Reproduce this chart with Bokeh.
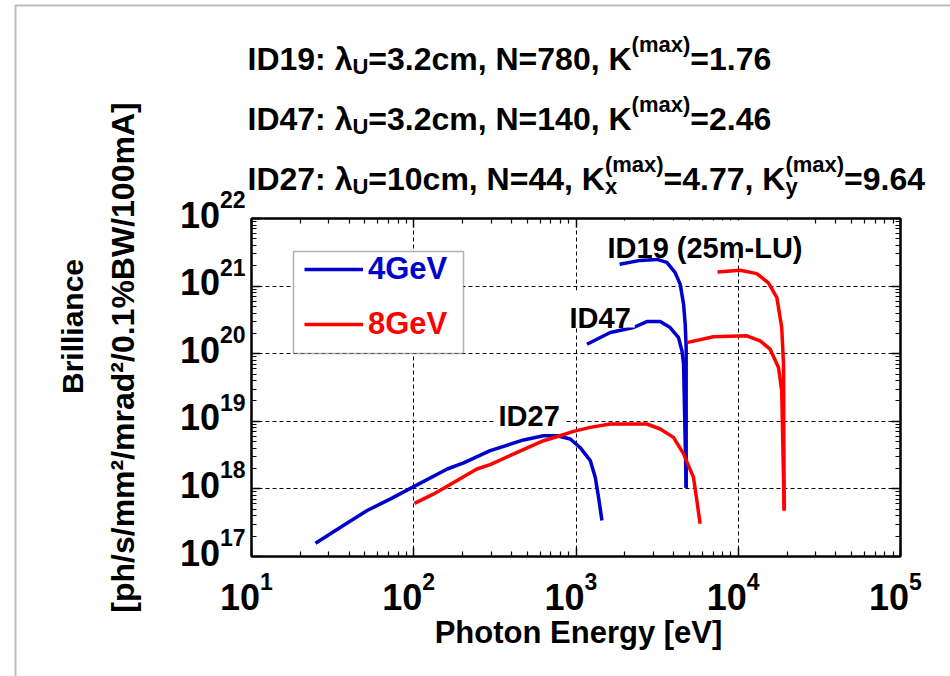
import math
from bokeh.plotting import figure
from bokeh.models import (Label, LogAxis, FixedTicker, BoxAnnotation, Legend, LegendItem, PolyAnnotation,
                          Range1d)
from bokeh.embed import file_html
from bokeh.resources import INLINE

# ---------------- data (photon energy [eV], brilliance) ----------------
id27_4gev_E = [24.8, 35.4, 51.6, 71.9, 100, 161, 203, 296, 475, 631, 764, 923, 1062, 1225, 1315, 1377, 1445]
id27_4gev_B = [1.57e17, 2.71e17, 4.79e17, 7.11e17, 1.08e18, 1.97e18, 2.42e18, 3.68e18, 5.30e18, 6.12e18,
               6.12e18, 5.47e18, 4.07e18, 2.62e18, 1.48e18, 7.52e17, 3.40e17]
id27_8gev_E = [101, 133, 185, 245, 296, 434, 631, 798, 966, 1225, 1626, 2735, 3304, 3990, 4603, 5297, 5559, 5821]
id27_8gev_B = [6.12e17, 8.43e17, 1.33e18, 1.97e18, 2.29e18, 3.48e18, 5.16e18, 6.12e18, 7.10e18, 8.13e18,
               9.12e18, 9.12e18, 7.69e18, 5.78e18, 3.29e18, 1.48e18, 6.71e17, 3.04e17]
id19_4gev_E = [1858, 2489, 3155, 3631, 4083, 4385, 4603, 4710, 4775, 4775]
id19_4gev_B = [2.10e21, 2.40e21, 2.48e21, 2.24e21, 1.58e21, 1.07e21, 5.41e20, 2.74e20, 1.23e20, 1.04e18]
id47_4gev_E = [1169, 1626, 2265, 2735, 3304, 3802, 4285, 4498, 4603, 4775]
id47_4gev_B = [1.38e20, 2.06e20, 2.44e20, 2.99e20, 2.99e20, 2.44e20, 1.73e20, 1.10e20, 7.01e19, 1.04e18]
id19_8gev_E = [7447, 10280, 13000, 15350, 17300, 18530, 19010, 19190]
id19_8gev_B = [1.62e21, 1.72e21, 1.53e21, 1.12e21, 6.76e20, 2.44e20, 7.01e19, 4.79e17]
id47_8gev_E = [4819, 7031, 11300, 13650, 15700, 17700, 18530, 19190]
id47_8gev_B = [1.46e20, 1.78e20, 1.84e20, 1.55e20, 1.17e20, 6.25e19, 2.83e19, 4.79e17]

x_tick_exponents = [1, 2, 3, 4, 5]
y_tick_exponents = [17, 18, 19, 20, 21, 22]
legend_labels = ["4GeV", "8GeV"]
curve_labels = ["ID19 (25m-LU)", "ID47", "ID27"]

BLUE = "#0000CC"
RED = "#FF0000"
FONT = "Liberation Sans"

# ---------------- layout constants (pixels) ----------------
W, H = 950, 676
FL, FR, FT, FB = 251, 900, 218, 556
XLO, XHI, YLO, YHI = 1, 5, 17, 22
DX = (FR - FL) / (XHI - XLO)
DY = (FB - FT) / (YHI - YLO)


def X(px):
    return float(10.0 ** (XLO + (px - FL) / DX))


def Y(py):
    return float(10.0 ** (YLO + (FB - py) / DY))


CW = {' ': 278, '(': 333, ')': 333, ',': 278, '-': 333, '.': 278, '/': 278, ':': 333, '=': 584, '%': 889,
      '[': 333, ']': 333, 'A': 722, 'B': 722, 'D': 722, 'E': 667, 'G': 778, 'I': 278, 'K': 722, 'L': 611,
      'N': 722, 'U': 722, 'V': 667, 'W': 944, 'a': 556, 'c': 556, 'd': 611, 'e': 556, 'g': 611, 'h': 611,
      'i': 278, 'l': 278, 'm': 889, 'n': 611, 'o': 611, 'p': 611, 'r': 389, 's': 556, 't': 333, 'x': 556,
      'y': 556, 'λ': 556}


def tw(s, size):
    return sum(CW.get(c, 556) for c in s) / 1000.0 * size


# ================= main plot =================
p = figure(width=W, height=H, x_axis_type="log", y_axis_type="log", title=None,
           x_range=(10.0 ** XLO, 10.0 ** XHI), y_range=(10.0 ** YLO, 10.0 ** YHI),
           output_backend="svg", toolbar_location=None,
           min_border_left=FL, min_border_right=W - FR, min_border_top=FT, min_border_bottom=H - FB)
p.background_fill_color = "white"
p.border_fill_color = "white"
p.outline_line_color = "black"
p.outline_line_width = 2

major_x = [10.0 ** e for e in x_tick_exponents]
minor_x = [k * 10.0 ** e for e in x_tick_exponents[:-1] for k in range(2, 10)]
major_y = [10.0 ** e for e in y_tick_exponents]
minor_y = [k * 10.0 ** e for e in y_tick_exponents[:-1] for k in range(2, 10)]


def style_axis(ax):
    ax.major_label_text_font_size = "10px"
    ax.major_label_text_color = None
    ax.major_tick_in = 9
    ax.major_tick_out = 0
    ax.minor_tick_in = 5
    ax.minor_tick_out = 0
    ax.axis_line_color = "black"
    ax.axis_line_width = 2
    ax.major_tick_line_width = 1.5
    ax.minor_tick_line_width = 1.2
    ax.major_label_standoff = 0


p.xaxis.ticker = FixedTicker(ticks=major_x, minor_ticks=minor_x)
p.yaxis.ticker = FixedTicker(ticks=major_y, minor_ticks=minor_y)
style_axis(p.xaxis[0])
style_axis(p.yaxis[0])
ax_top = LogAxis(ticker=FixedTicker(ticks=major_x, minor_ticks=minor_x))
ax_right = LogAxis(ticker=FixedTicker(ticks=major_y, minor_ticks=minor_y))
style_axis(ax_top)
style_axis(ax_right)
p.add_layout(ax_top, "above")
p.add_layout(ax_right, "right")

for g, t in ((p.xgrid[0], major_x[1:-1]), (p.ygrid[0], major_y[1:-1])):
    g.ticker = FixedTicker(ticks=t)
    g.grid_line_color = "black"
    g.grid_line_dash = "4 3"
    g.grid_line_width = 1
    g.grid_line_alpha = 1.0

LW = 3.5
r19_4 = p.line(id19_4gev_E, id19_4gev_B, line_color=BLUE, line_width=LW, line_join="round")
p.line(id47_4gev_E, id47_4gev_B, line_color=BLUE, line_width=LW, line_join="round")
p.line(id27_4gev_E, id27_4gev_B, line_color=BLUE, line_width=LW, line_join="round")
r19_8 = p.line(id19_8gev_E, id19_8gev_B, line_color=RED, line_width=LW, line_join="round")
p.line(id47_8gev_E, id47_8gev_B, line_color=RED, line_width=LW, line_join="round")
p.line(id27_8gev_E, id27_8gev_B, line_color=RED, line_width=LW, line_join="round")

# curve labels (white boxes hide the grid behind them)
for txt, px, pyb in ((curve_labels[0], 607, 247), (curve_labels[1], 569, 317), (curve_labels[2], 498, 415)):
    wpx = tw(txt, 29)
    p.add_layout(BoxAnnotation(left=X(px - 4), right=X(px + wpx + 4), top=Y(pyb - 27), bottom=Y(pyb + 10),
                               fill_color="white", fill_alpha=1.0, line_alpha=0.0))
    p.add_layout(Label(x=X(px), y=Y(pyb), text=txt, text_font=FONT, text_font_style="bold",
                       text_font_size="29px", text_color="black", text_baseline="alphabetic",
                       text_align="left"))

# legend
p.add_layout(BoxAnnotation(left=X(293), right=X(463), top=Y(251), bottom=Y(353),
                           fill_color="white", fill_alpha=1.0, line_color="black", line_width=1.5))
for lab, rend, col, cy in ((legend_labels[0], r19_4, BLUE, 268.5), (legend_labels[1], r19_8, RED, 324)):
    leg = Legend(items=[LegendItem(label=lab, renderers=[rend])], location=(304 - FL, int(FB - (cy + 18))),
                 glyph_width=59, glyph_height=36, label_standoff=5, padding=0, margin=0,
                 border_line_color=None, background_fill_alpha=0.0,
                 label_text_font=FONT, label_text_font_style="bold", label_text_font_size="31px",
                 label_text_color=col)
    p.add_layout(leg)

# ================= transparent overlay (separate root) for the texts around the plot =================
# same log scales as the plot, extended to the whole canvas; pulled up over the plot
ov = figure(width=W, height=H, title=None, toolbar_location=None, output_backend="svg",
            x_axis_type="log", y_axis_type="log",
            x_range=Range1d(X(0), X(W)), y_range=Range1d(Y(H), Y(0)),
            x_axis_location=None, y_axis_location=None,
            min_border=0, min_border_left=0, min_border_right=0, min_border_top=0, min_border_bottom=0)
ov.background_fill_alpha = 0.0
ov.border_fill_alpha = 0.0
ov.outline_line_color = None
ov.grid.visible = False
ov.margin = (-H, 0, 0, 0)


def rich(pieces, x0, yb, align="left"):
    total = sum(tw(t, s) for t, s, dy, adv in pieces if adv)
    x = x0 - (total / 2 if align == "center" else total if align == "right" else 0)
    for t, s, dy, adv in pieces:
        ov.add_layout(Label(x=X(x), y=Y(yb + dy), text=t, text_font=FONT, text_font_style="bold",
                            text_font_size=f"{s}px", text_color="black", text_baseline="alphabetic",
                            text_align="left"))
        if adv:
            x += tw(t, s)


# title lines
M, S = 32, 22
rich([("ID19: λ", M, 0, True), ("U", S, 8, True), ("=3.2cm, N=780, K", M, 0, True),
      ("(max)", S, -14, True), ("=1.76", M, 0, True)], 247, 58)
rich([("ID47: λ", M, 0, True), ("U", S, 8, True), ("=3.2cm, N=140, K", M, 0, True),
      ("(max)", S, -14, True), ("=2.46", M, 0, True)], 247, 118)
rich([("ID27: λ", M, 0, True), ("U", S, 8, True), ("=10cm, N=44, K", M, 0, True),
      ("x", S, 8, False), ("(max)", S, -14, True), ("=4.77, K", M, 0, True),
      ("y", S, 8, False), ("(max)", S, -14, True), ("=9.64", M, 0, True)], 247, 178)

# tick labels (powers of ten)
for e in y_tick_exponents:
    ty = FB - (e - YLO) * DY
    rich([("10", 36, 0, True), (str(e), 23, -15, True)], 245, ty - 4, align="right")
for e in x_tick_exponents:
    tx = FL + (e - XLO) * DX
    rich([("10", 36, 0, True), (str(e), 23, -15, True)], tx - 5, 596, align="center")

# axis titles
ov.add_layout(Label(x=X(578), y=Y(632), text="Photon Energy [eV]", text_font=FONT, text_font_style="bold",
                    text_font_size="31px", text_color="black", text_align="center", text_baseline="middle"))
ov.add_layout(Label(x=X(72), y=Y(326), text="Brilliance", text_font=FONT, text_font_style="bold",
                    text_font_size="30px", text_color="black", text_align="center", text_baseline="middle",
                    angle=math.pi / 2))
ov.add_layout(Label(x=X(122), y=Y(357), text="[ph/s/mm²/mrad²/0.1%BW/100mA]", text_font=FONT,
                    text_font_style="bold", text_font_size="32px", text_color="black", text_align="center",
                    text_baseline="middle", angle=math.pi / 2))

# outer frame of the slide
ov.add_layout(PolyAnnotation(xs=[X(15), X(15), X(990), X(990)], ys=[Y(720), Y(5), Y(5), Y(720)],
                             fill_alpha=0.0, line_color="#222222", line_width=2))

open("out.html", "w").write(file_html([p, ov], INLINE))
